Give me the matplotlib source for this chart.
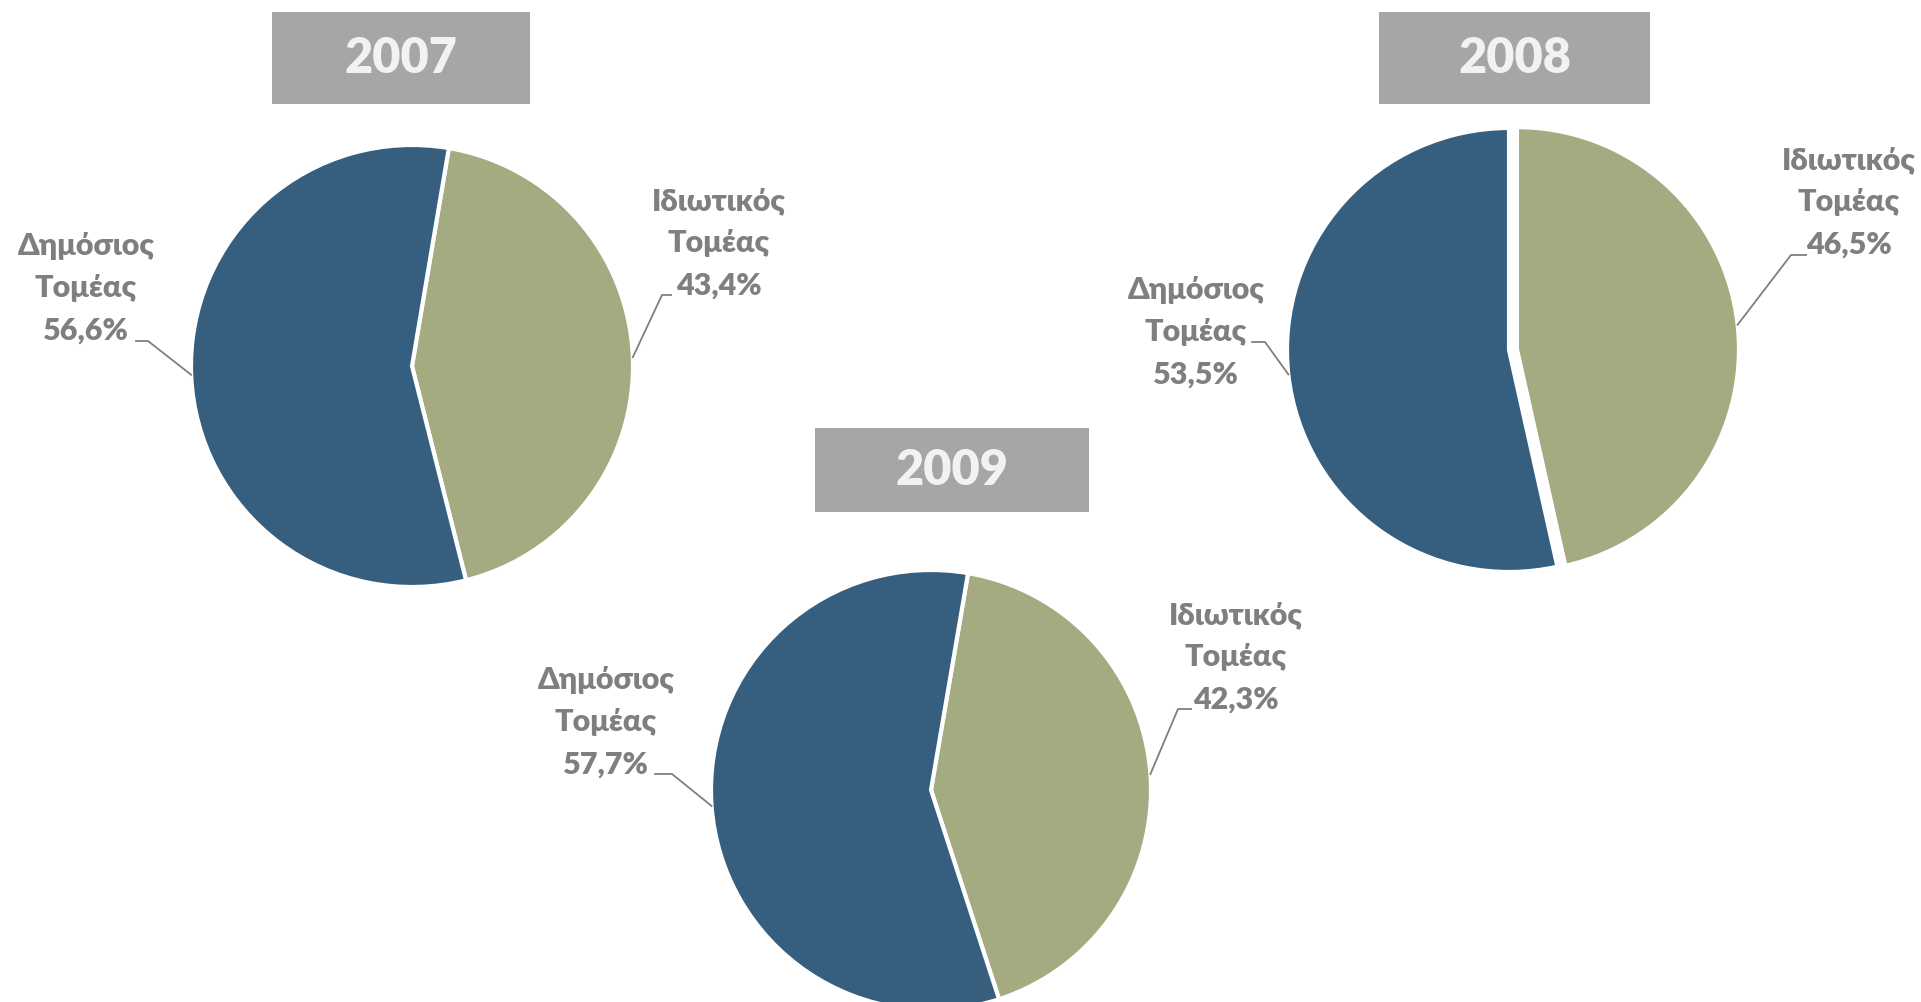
import math

import matplotlib as mpl
mpl.use('Agg')
import matplotlib.pyplot as plt
from matplotlib.patches import Rectangle

# data
years = ['2007', '2008', '2009']
sector_labels = ['Ιδιωτικός\nΤομέας', 'Δημόσιος\nΤομέας']
private_share = [43.4, 46.5, 42.3]
public_share = [56.6, 53.5, 57.7]

COLOR_PRIVATE = '#A4AB80'
COLOR_PUBLIC = '#365E7E'
TEXT_GRAY = '#7F7F7F'
BOX_GRAY = '#A6A6A6'
FONT = ['Lato', 'DejaVu Sans']

W, H = 1921, 1002

# layout in pixels from the top-left corner
layout = {
    '2007': dict(center=(412, 366), radius=221, offset=9.6, explode=(0, 0),
                 box=(272, 12, 258, 92),
                 text=[(719, 243), (86, 288)],
                 leader=[((671, 295), (662, 295)), ((136, 341), (148, 341))]),
    '2008': dict(center=(1509, 350), radius=222, offset=0.0,
                 explode=(8, 0),
                 box=(1379, 12, 271, 92),
                 text=[(1849, 202), (1196, 332)],
                 leader=[((1806, 255), (1791, 255)),
                         ((1252, 342), (1265, 342))]),
    '2009': dict(center=(931, 790), radius=220, offset=9.7, explode=(0, 0),
                 box=(815, 428, 274, 84),
                 text=[(1236, 657), (606, 722)],
                 leader=[((1191, 709), (1178, 709)),
                         ((655, 774), (672, 774))]),
}


def fmt_pct(value):
    return ('%.1f%%' % value).replace('.', ',')


fig = plt.figure(figsize=(W / 100, H / 100), dpi=100)
ax = fig.add_axes([0, 0, 1, 1])

for year, priv, pub in zip(years, private_share, public_share):
    opts = layout[year]
    cx, cy = opts['center']
    wedges, _ = ax.pie([priv, pub], colors=[COLOR_PRIVATE, COLOR_PUBLIC],
                       center=(cx, H - cy), radius=opts['radius'],
                       startangle=90 - opts['offset'], counterclock=False,
                       explode=opts['explode'],
                       wedgeprops=dict(edgecolor='white', linewidth=3))

    # title box
    bx, by, bw, bh = opts['box']
    ax.add_patch(Rectangle((bx, H - by - bh), bw, bh, facecolor=BOX_GRAY,
                           edgecolor='none'))
    ax.text(bx + bw / 2, H - by - bh / 2, year, ha='center', va='center',
            color='#F2F2F2', fontsize=35, fontweight='heavy', family=FONT)

    # labels and leader lines
    for wedge, label, value, (tx, ty), (end, elbow) in zip(
            wedges, sector_labels, [priv, pub], opts['text'],
            opts['leader']):
        ax.text(tx, H - ty, label + '\n' + fmt_pct(value), ha='center',
                va='center', ma='center', color=TEXT_GRAY, fontsize=22,
                fontweight='heavy', family=FONT, linespacing=1.62)
        ang = math.radians((wedge.theta1 + wedge.theta2) / 2)
        wx, wy = wedge.center
        anchor = (wx + wedge.r * math.cos(ang), wy + wedge.r * math.sin(ang))
        ax.plot([end[0], elbow[0], anchor[0]],
                [H - end[1], H - elbow[1], anchor[1]],
                color=TEXT_GRAY, linewidth=1.3)

ax.set_xlim(0, W)
ax.set_ylim(0, H)
ax.set_aspect('equal')
ax.axis('off')

fig.savefig('out.png', dpi=100)
